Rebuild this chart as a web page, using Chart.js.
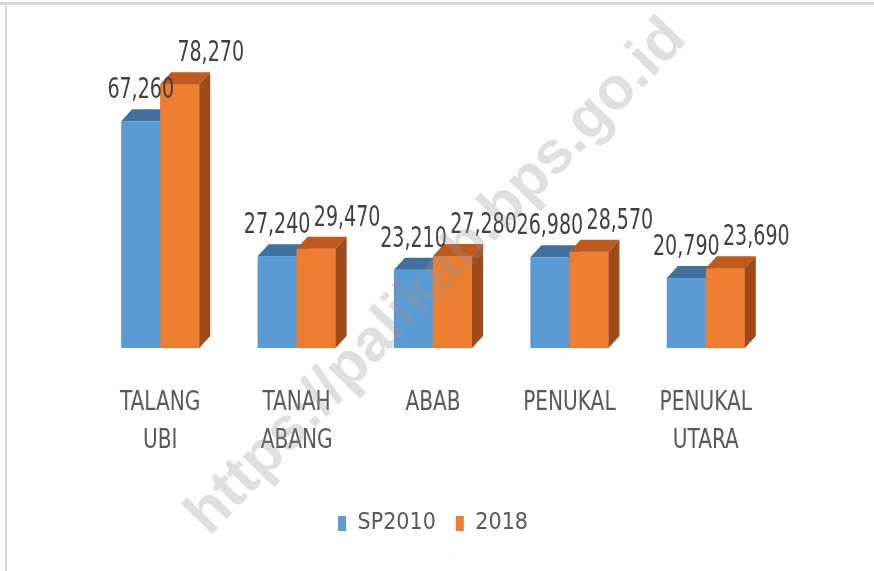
<!DOCTYPE html>
<html>
<head>
<meta charset="utf-8">
<script src="https://cdn.jsdelivr.net/npm/chart.js@4.4.1/dist/chart.umd.min.js"></script>
<style>
  html, body { margin: 0; padding: 0; background: #ffffff; }
  #wrap { position: relative; width: 874px; height: 571px; }
  canvas { display: block; }
</style>
</head>
<body>
<div id="wrap"><canvas id="c" width="874" height="571"></canvas></div>
<script>
// ---- data ----
const categories = [["TALANG", "UBI"], ["TANAH", "ABANG"], "ABAB", "PENUKAL", ["PENUKAL", "UTARA"]];
const seriesNames = ["SP2010", "2018"];
const sp2010 = [67260, 27240, 23210, 26980, 20790];
const y2018 = [78270, 29470, 27280, 28570, 23690];
const valueLabels2010 = ["67,260", "27,240", "23,210", "26,980", "20,790"];
const valueLabels2018 = ["78,270", "29,470", "27,280", "28,570", "23,690"];
const watermarkText = "https://palikab.bps.go.id";

// ---- styles ----
const FONT = '"DejaVu Sans Condensed", "Liberation Sans Narrow", "Liberation Sans", sans-serif';
const faces = [
  { front: '#5B9BD5', top: '#41729F', side: '#3F6F9B' },
  { front: '#ED7D31', top: '#BE5B1C', side: '#9D4C19' }
];
const DEPTH_X = 11, DEPTH_Y = 12;
const TICK_SIZE = 26, TICK_LH = 1.46, TICK_PAD = 34;

function barBox(bar) {
  const p = bar.getProps(['x', 'y', 'base', 'width'], true);
  return { l: p.x - p.width / 2, r: p.x + p.width / 2, t: p.y, b: p.base, x: p.x };
}

const frame3d = {
  id: 'frame3d',
  beforeDraw(chart) {
    const ctx = chart.ctx;
    ctx.save();
    ctx.fillStyle = '#ffffff';
    ctx.fillRect(0, 0, chart.width, chart.height);
    ctx.fillStyle = '#d9d9d9';
    ctx.fillRect(0, 2, chart.width, 3);
    ctx.fillRect(5, 2, 2, chart.height - 2);
    ctx.restore();
  },
  afterDatasetsDraw(chart) {
    const ctx = chart.ctx;
    ctx.save();
    // 3D faces, series in order so later series covers earlier ones
    chart.data.datasets.forEach((ds, di) => {
      const f = faces[di];
      chart.getDatasetMeta(di).data.forEach((bar) => {
        const { l, r, t, b } = barBox(bar);
        if (di > 0) {
          ctx.fillStyle = f.front;
          ctx.fillRect(l, t, r - l, b - t);
        }
        ctx.fillStyle = f.top;
        ctx.beginPath();
        ctx.moveTo(l, t);
        ctx.lineTo(l + DEPTH_X, t - DEPTH_Y);
        ctx.lineTo(r + DEPTH_X, t - DEPTH_Y);
        ctx.lineTo(r, t);
        ctx.closePath();
        ctx.fill();
        ctx.fillStyle = f.side;
        ctx.beginPath();
        ctx.moveTo(r, t);
        ctx.lineTo(r + DEPTH_X, t - DEPTH_Y);
        ctx.lineTo(r + DEPTH_X, b - DEPTH_Y);
        ctx.lineTo(r, b);
        ctx.closePath();
        ctx.fill();
      });
    });
    // value labels
    const labelSets = [valueLabels2010, valueLabels2018];
    const shifts = [0, 31];
    ctx.fillStyle = '#404040';
    ctx.font = '29px ' + FONT;
    ctx.textAlign = 'center';
    ctx.textBaseline = 'alphabetic';
    chart.data.datasets.forEach((ds, di) => {
      chart.getDatasetMeta(di).data.forEach((bar, i) => {
        const { x, t } = barBox(bar);
        ctx.save();
        ctx.translate(x + shifts[di], t - 23);
        ctx.scale(0.73, 1);
        ctx.fillText(labelSets[di][i], 0, 0);
        ctx.restore();
      });
    });
    // category labels (narrow)
    const xs = chart.scales.x;
    const lh = TICK_SIZE * TICK_LH;
    ctx.fillStyle = '#595959';
    ctx.font = TICK_SIZE + 'px ' + FONT;
    ctx.textBaseline = 'middle';
    chart.data.labels.forEach((lab, i) => {
      const lines = Array.isArray(lab) ? lab : [lab];
      const cx = xs.getPixelForTick(i);
      lines.forEach((ln, k) => {
        ctx.save();
        ctx.translate(cx, chart.chartArea.bottom + TICK_PAD + lh / 2 + k * lh + 2);
        ctx.scale(0.86, 1);
        ctx.fillText(ln, 0, 0);
        ctx.restore();
      });
    });
    ctx.restore();
  },
  afterDraw(chart) {
    const ctx = chart.ctx;
    ctx.save();
    ctx.translate(437, 277);
    ctx.rotate(-46 * Math.PI / 180);
    ctx.font = 'bold 60px "Liberation Sans", Arial, sans-serif';
    ctx.textAlign = 'center';
    ctx.textBaseline = 'middle';
    ctx.fillStyle = 'rgba(150,150,150,0.30)';
    ctx.fillText(watermarkText, 0, 0);
    ctx.restore();
  }
};

new Chart(document.getElementById('c'), {
  type: 'bar',
  data: {
    labels: categories,
    datasets: [
      { label: seriesNames[0], data: sp2010, backgroundColor: faces[0].front,
        categoryPercentage: 0.572, barPercentage: 1.0, borderWidth: 0 },
      { label: seriesNames[1], data: y2018, backgroundColor: faces[1].front,
        categoryPercentage: 0.572, barPercentage: 1.0, borderWidth: 0 }
    ]
  },
  options: {
    responsive: false,
    animation: false,
    events: [],
    layout: { padding: { left: 92, right: 100, top: 11, bottom: 26 } },
    scales: {
      x: {
        grid: { display: false, drawTicks: false },
        border: { display: false },
        ticks: {
          color: 'rgba(0,0,0,0)',
          font: { family: FONT, size: TICK_SIZE, lineHeight: TICK_LH },
          padding: TICK_PAD,
          maxRotation: 0, autoSkip: false
        }
      },
      y: {
        display: false,
        min: 0, max: 100000
      }
    },
    plugins: {
      legend: {
        position: 'bottom',
        labels: {
          color: '#595959',
          font: { family: FONT, size: 23 },
          boxWidth: 8, boxHeight: 15,
          padding: 20
        }
      },
      tooltip: { enabled: false }
    }
  },
  plugins: [frame3d]
});
</script>
</body>
</html>
